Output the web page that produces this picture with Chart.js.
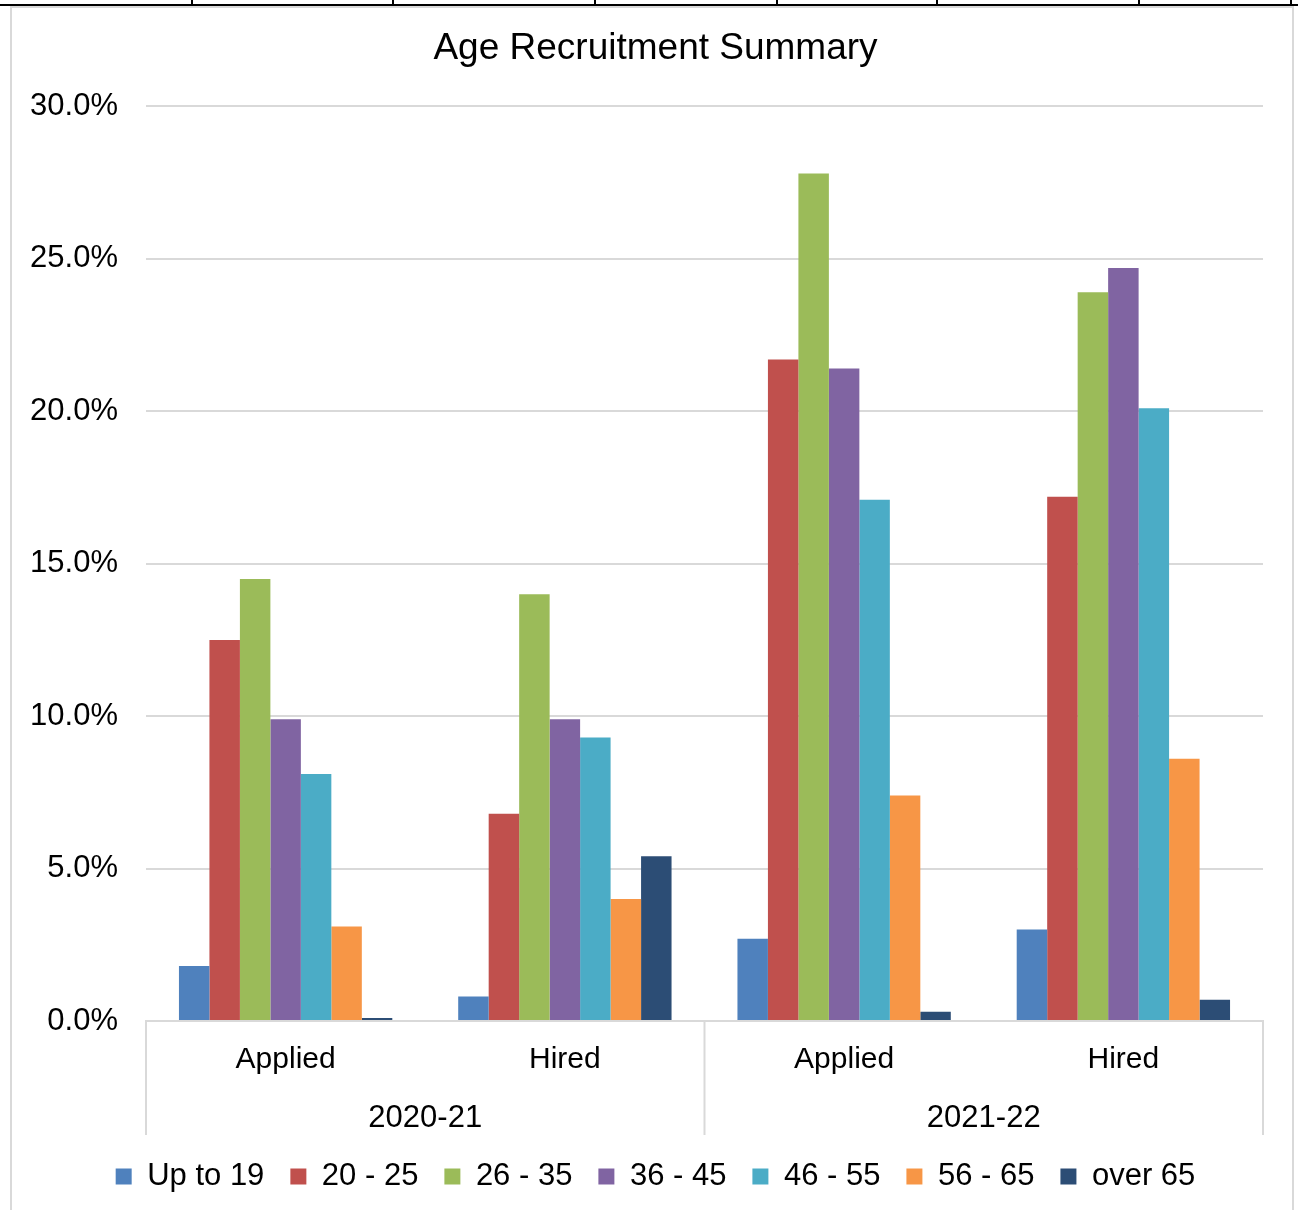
<!DOCTYPE html>
<html>
<head>
<meta charset="utf-8">
<title>Age Recruitment Summary</title>
<script src="https://cdn.jsdelivr.net/npm/chart.js@4.4.1/dist/chart.umd.min.js"></script>
<style>
    body { margin: 0; background: #fff; width: 1298px; height: 1210px; overflow: hidden; position: relative; }
    .rule { position: absolute; left: 0; top: 4px; width: 1298px; height: 2px; background: #000; }
    .cell { position: absolute; top: 0; width: 2px; height: 5px; background: #000; }
    .frame { position: absolute; left: 10px; top: 6px; width: 1280px; height: 1220px; border: 2px solid #d9d9d9; border-bottom: none; }
    .wrap { position: absolute; left: 12px; top: 7px; width: 1279px; height: 1203px; }
</style>
</head>
<body>
<div class="rule"></div>
<div class="cell" style="left:191px"></div>
<div class="cell" style="left:392px"></div>
<div class="cell" style="left:594px"></div>
<div class="cell" style="left:776px"></div>
<div class="cell" style="left:936px"></div>
<div class="cell" style="left:1138px"></div>
<div class="cell" style="left:1290px"></div>
<div class="frame"></div>
<div class="wrap"><canvas id="myChart"></canvas></div>
<script>
const stages = ['Applied', 'Hired', 'Applied', 'Hired'];
const years = ['2020-21', '2021-22'];

const ageGroups = ['Up to 19', '20 - 25', '26 - 35', '36 - 45', '46 - 55', '56 - 65', 'over 65'];

// percent of people in each age band, per stage
const upTo19 = [1.8, 0.8, 2.7, 3.0];
const age20to25 = [12.5, 6.8, 21.7, 17.2];
const age26to35 = [14.5, 14.0, 27.8, 23.9];
const age36to45 = [9.9, 9.9, 21.4, 24.7];
const age46to55 = [8.1, 9.3, 17.1, 20.1];
const age56to65 = [3.1, 4.0, 7.4, 8.6];
const over65 = [0.1, 5.4, 0.3, 0.7];

const yTicks = [0, 5, 10, 15, 20, 25, 30];

const colors = ['#4F81BD', '#C0504D', '#9BBB59', '#8064A2', '#4BACC6', '#F79646', '#2C4D75'];
const seriesValues = [upTo19, age20to25, age26to35, age36to45, age46to55, age56to65, over65];

const gridGray = '#d9d9d9';
Chart.defaults.font.family = "'Liberation Sans', Arial, sans-serif";
Chart.defaults.color = '#000';

// vertical dividers of the two-level category axis
const groupDividers = {
    id: 'groupDividers',
    afterLayout(chart) {
        // let the y tick labels run into the left padding without being clipped
        chart.scales.y.left = 0;
    },
    afterDraw(chart) {
        const x = chart.scales.x;
        const x2 = chart.scales.x2;
        const mid = (x.getPixelForValue(1) + x.getPixelForValue(2)) / 2;
        const c = chart.ctx;
        c.save();
        c.strokeStyle = gridGray;
        c.lineWidth = 2;
        [x.left, mid, x.right].forEach(px => {
            c.beginPath();
            c.moveTo(px, chart.chartArea.bottom);
            c.lineTo(px, x2.bottom);
            c.stroke();
        });
        c.restore();
    }
};

const ctx = document.getElementById('myChart');

new Chart(ctx, {
    type: 'bar',
    data: {
        labels: stages,
        datasets: ageGroups.map((name, i) => ({
            label: name,
            data: seriesValues[i],
            backgroundColor: colors[i],
            borderWidth: 0,
            categoryPercentage: 0.764,
            barPercentage: 1.0
        }))
    },
    options: {
        responsive: true,
        maintainAspectRatio: false,
        animation: false,
        layout: { padding: { left: 36, right: 28, top: 0, bottom: 8 } },
        plugins: {
            title: {
                display: true,
                text: 'Age Recruitment Summary',
                font: { size: 37, weight: 'normal' },
                padding: { top: 20, bottom: 35 }
            },
            legend: {
                position: 'bottom',
                labels: {
                    boxWidth: 16,
                    boxHeight: 16,
                    padding: 26,
                    font: { size: 31 }
                }
            },
            tooltip: { enabled: false }
        },
        scales: {
            x: {
                grid: { display: false, drawTicks: false },
                border: { color: gridGray, width: 2 },
                afterFit: axis => { axis.height = 56; },
                ticks: { font: { size: 30 }, padding: 21 }
            },
            x2: {
                type: 'category',
                labels: years,
                position: 'bottom',
                grid: { display: false, drawTicks: false },
                border: { display: false },
                afterFit: axis => { axis.height = 58; },
                ticks: { font: { size: 31 }, padding: 23 }
            },
            y: {
                min: 0,
                max: 30,
                afterBuildTicks: axis => { axis.ticks = yTicks.map(v => ({ value: v })); },
                afterFit: axis => { axis.width = 98; },
                grid: { color: gridGray, lineWidth: 2, drawTicks: false },
                border: { display: false },
                ticks: {
                    font: { size: 31 },
                    padding: 28,
                    callback: v => v.toFixed(1) + '%'
                }
            }
        }
    },
    plugins: [groupDividers]
});
</script>
</body>
</html>
